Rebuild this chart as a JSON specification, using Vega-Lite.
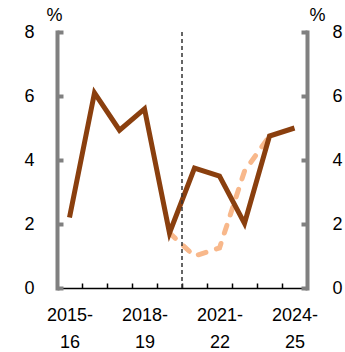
{
  "$schema": "https://vega.github.io/schema/vega-lite/v6.json",
  "width": 250,
  "height": 256,
  "autosize": "none",
  "padding": {"left": 57, "top": 32, "right": 38, "bottom": 64},
  "config": {
    "view": {"stroke": null},
    "font": "Liberation Sans",
    "axis": {"labelFont": "Liberation Sans", "labelFontSize": 18, "labelColor": "#000000", "titleFont": "Liberation Sans", "titleFontSize": 18, "titleFontWeight": "normal", "titleColor": "#000000", "grid": false}
  },
  "datasets": {
    "main": [
      {"year": "2015-16", "value": 2.2},
      {"year": "2016-17", "value": 6.1},
      {"year": "2017-18", "value": 4.93},
      {"year": "2018-19", "value": 5.6},
      {"year": "2019-20", "value": 1.72},
      {"year": "2020-21", "value": 3.75},
      {"year": "2021-22", "value": 3.5},
      {"year": "2022-23", "value": 2.02},
      {"year": "2023-24", "value": 4.75},
      {"year": "2024-25", "value": 5.0}
    ],
    "alt": [
      {"year": "2019-20", "value": 1.72},
      {"year": "2020-21", "value": 1.0},
      {"year": "2021-22", "value": 1.25},
      {"year": "2022-23", "value": 3.65},
      {"year": "2023-24", "value": 4.75}
    ],
    "divider": [{"year": "2020-21"}]
  },
  "layer": [
    {
      "data": {"name": "alt"},
      "mark": {"type": "line", "color": "#F8B88B", "strokeWidth": 5, "strokeDash": [8, 11], "strokeCap": "round"},
      "encoding": {
        "x": {
          "field": "year", "type": "ordinal", "bandPosition": 0.5,
          "scale": {"type": "band", "domain": ["2015-16","2016-17","2017-18","2018-19","2019-20","2020-21","2021-22","2022-23","2023-24","2024-25"], "paddingInner": 0, "paddingOuter": 0},
          "axis": {
            "title": null, "domainColor": "#000000", "domainWidth": 1.5, "tickColor": "#000000", "tickWidth": 1.5, "tickSize": -5, "tickBand": "extent",
            "labelAngle": 0, "labelPadding": 23, "labelLineHeight": 27, "labelOverlap": false,
            "labelExpr": "indexof(['2015-16','2018-19','2021-22','2024-25'], datum.label) >= 0 ? [slice(datum.label,0,5), slice(datum.label,5)] : ''"
          }
        },
        "y": {
          "field": "value", "type": "quantitative",
          "scale": {"domain": [0, 8]},
          "axis": {"orient": "left", "title": "%", "titleAngle": 0, "titleAlign": "center", "titleBaseline": "bottom", "titleX": -3, "titleY": -8,
            "values": [0, 2, 4, 6, 8], "domainColor": "#808080", "domainWidth": 4, "domainCap": "square", "tickColor": "#808080", "tickWidth": 4, "tickSize": -6, "labelPadding": 29}
        }
      }
    },
    {
      "data": {"name": "main"},
      "mark": {"type": "line", "color": "#8A3F0E", "strokeWidth": 5, "strokeJoin": "miter"},
      "encoding": {
        "x": {"field": "year", "type": "ordinal", "bandPosition": 0.5},
        "y": {
          "field": "value", "type": "quantitative",
          "scale": {"domain": [0, 8]},
          "axis": {"orient": "right", "title": "%", "titleAngle": 0, "titleAlign": "center", "titleBaseline": "bottom", "titleX": 10, "titleY": -8,
            "values": [0, 2, 4, 6, 8], "domainColor": "#808080", "domainWidth": 4, "domainCap": "square", "tickColor": "#808080", "tickWidth": 4, "tickSize": -6, "labelPadding": 31}
        }
      }
    },
    {
      "data": {"name": "divider"},
      "mark": {"type": "rule", "color": "#333333", "strokeDash": [4, 3], "strokeWidth": 1.5},
      "encoding": {"x": {"field": "year", "type": "ordinal", "bandPosition": 0}}
    }
  ],
  "resolve": {"scale": {"y": "independent"}}
}
